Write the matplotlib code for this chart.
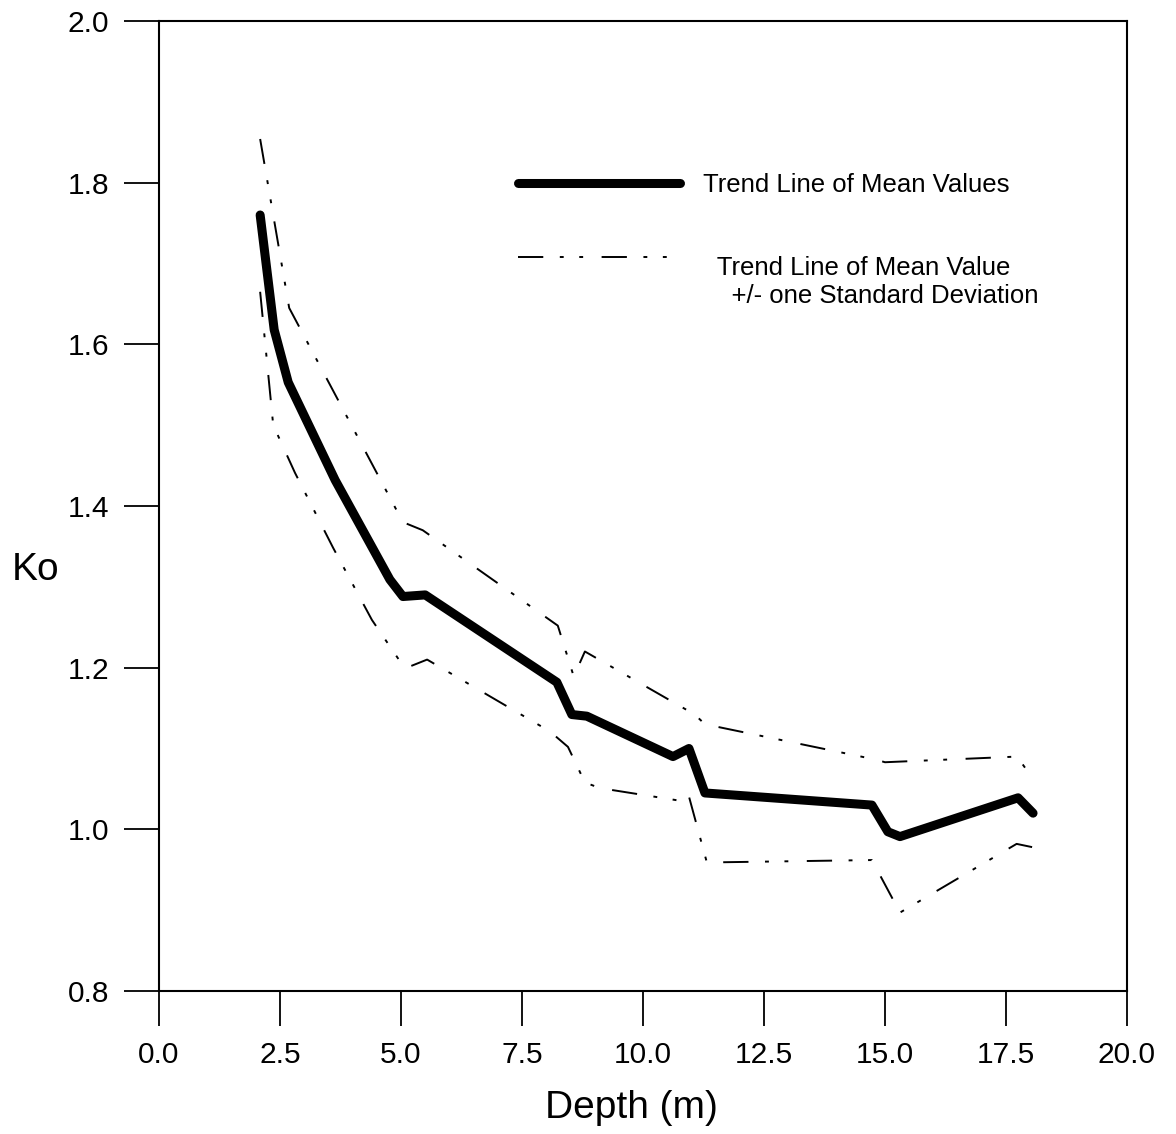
import numpy as np
import matplotlib
matplotlib.use('Agg')
import matplotlib.pyplot as plt
from matplotlib.legend_handler import HandlerLine2D

plt.rcParams['font.family'] = ['Liberation Sans', 'DejaVu Sans']

# mean trend line
depth_mean = [2.09, 2.38, 2.67, 3.64, 4.77, 5.04, 5.50, 8.22, 8.53, 8.84,
              10.62, 10.95, 11.28, 14.73, 15.06, 15.31, 17.75, 18.06]
ko_mean = [1.760, 1.618, 1.553, 1.432, 1.309, 1.288, 1.290, 1.182, 1.142, 1.140,
           1.090, 1.100, 1.045, 1.030, 0.997, 0.991, 1.039, 1.020]

# mean + one std
depth_upper = [2.09, 2.69, 5.04, 5.45, 8.24, 8.57, 8.80, 11.07, 11.28,
               14.83, 15.00, 17.73, 18.04]
ko_upper = [1.854, 1.645, 1.380, 1.370, 1.252, 1.189, 1.220, 1.142, 1.130,
            1.086, 1.083, 1.090, 1.064]

# mean - one std
depth_lower = [2.09, 2.36, 2.81, 3.60, 4.40, 5.08, 5.54, 8.08, 8.45, 8.80,
               9.11, 10.70, 10.93, 11.32, 14.73, 15.31, 17.72, 18.04]
ko_lower = [1.665, 1.500, 1.441, 1.348, 1.259, 1.199, 1.210, 1.121, 1.102, 1.058,
            1.051, 1.036, 1.045, 0.959, 0.962, 0.897, 0.982, 0.978]

xticks = np.arange(0, 20.1, 2.5)
yticks = np.arange(0.8, 2.01, 0.2)


class RaisedLine(HandlerLine2D):
    # legend sample sits level with the first line of a two-line label
    def __init__(self, lift, **kw):
        super().__init__(**kw)
        self.lift = lift

    def create_artists(self, legend, orig_handle, xdescent, ydescent,
                       width, height, fontsize, trans):
        return super().create_artists(legend, orig_handle, xdescent,
                                      ydescent - 2 * self.lift, width, height,
                                      fontsize, trans)


fig = plt.figure(figsize=(11.76, 11.34), dpi=100)
ax = fig.add_axes([0.1352, 0.1261, 0.8231, 0.8554])

dash = (0, (13.0, 8.5, 2.0, 8.0, 2.0, 9.5))
ax.plot(depth_mean, ko_mean, color='black', lw=6.5,
        solid_capstyle='round', solid_joinstyle='round',
        label='Trend Line of Mean Values')
std_line, = ax.plot(depth_upper, ko_upper, color='black', lw=1.4, linestyle=dash,
                    label='  Trend Line of Mean Value\n    +/- one Standard Deviation')
ax.plot(depth_lower, ko_lower, color='black', lw=1.4, linestyle=dash)

ax.set_xlim(0, 20)
ax.set_ylim(0.8, 2.0)
ax.set_xticks(xticks)
ax.set_yticks(yticks)
ax.set_xticklabels(['%.1f' % v for v in xticks])
ax.set_yticklabels(['%.1f' % v for v in yticks])
ax.tick_params(direction='out', length=25, width=1.3, labelsize=21.5, pad=11)

for s in ax.spines.values():
    s.set_linewidth(1.5)

ax.set_xlabel('Depth (m)', fontsize=28)
ax.xaxis.set_label_coords(0.4876, -0.1206)
ax.xaxis.label.set_va('center')
ax.set_ylabel('Ko', fontsize=28, rotation=0, va='center', ha='center')
ax.yaxis.set_label_coords(-0.128, 0.434)

ax.legend(loc='upper left', bbox_to_anchor=(0.371, 0.843), frameon=False,
          fontsize=18.5, handlelength=6.3, handletextpad=0.9, labelspacing=2.3,
          borderpad=0, borderaxespad=0,
          handler_map={std_line: RaisedLine(lift=18.5)})

fig.savefig('out.png', dpi=100)
